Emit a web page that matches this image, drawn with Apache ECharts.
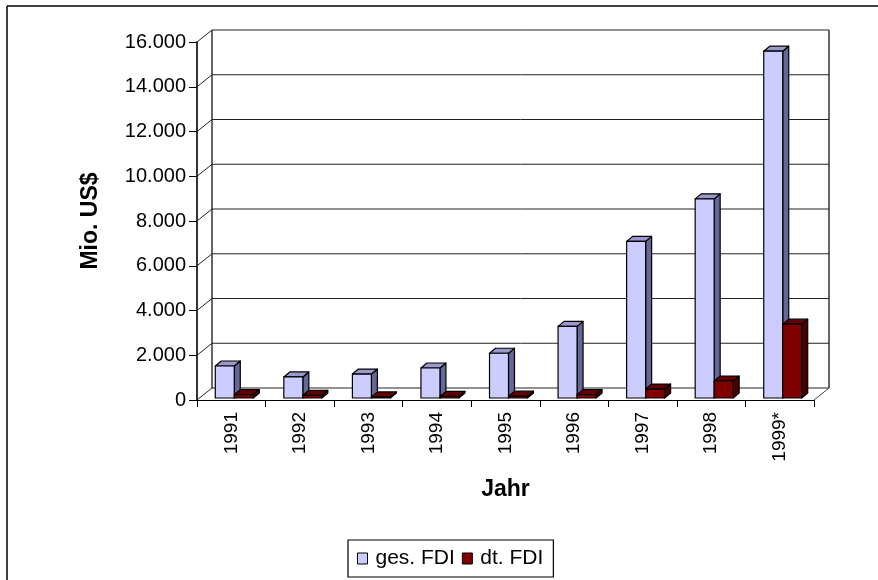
<!DOCTYPE html>
<html>
<head>
<meta charset="utf-8">
<script src="https://cdn.jsdelivr.net/npm/echarts@6/dist/echarts.min.js"></script>
<style>
  html, body { margin: 0; padding: 0; background: #fff; }
  #chart { width: 878px; height: 580px; }
</style>
</head>
<body>
<div id="chart"></div>
<script>
const years = ['1991', '1992', '1993', '1994', '1995', '1996', '1997', '1998', '1999*'];
const gesFdi = [1430, 940, 1070, 1340, 2000, 3200, 7000, 8900, 15500];
const dtFdi = [150, 120, 50, 70, 80, 150, 400, 760, 3300];
const yTicks = [0, 2000, 4000, 6000, 8000, 10000, 12000, 14000, 16000];

// Tiefe der 3D-Wand / der Säulen
const WALL_DX = 15, WALL_DY = -12;
const BAR_OFF_X = 3, BAR_OFF_Y = -2;
const BAR_DX = 6, BAR_DY = -5;
const LINE = '#000';

const fmt = v => String(v).replace(/\B(?=(\d{3})+(?!\d))/g, '.');

const chart = echarts.init(document.getElementById('chart'));

function renderWall(params, api) {
  const cs = params.coordSys;
  const v = api.value(1);
  const y = api.coord([0, v])[1];
  const x0 = cs.x, x1 = cs.x + cs.width;
  const children = [
    { type: 'line', shape: { x1: x0 + WALL_DX, y1: y + WALL_DY, x2: x1 + WALL_DX, y2: y + WALL_DY },
      style: { stroke: '#222', lineWidth: 1 } },
    { type: 'line', shape: { x1: x0, y1: y, x2: x0 + WALL_DX, y2: y + WALL_DY },
      style: { stroke: '#222', lineWidth: 1 } }
  ];
  if (params.dataIndex === 0) {
    const yb = cs.y + cs.height, yt = cs.y;
    children.push(
      { type: 'line', shape: { x1: x0 + WALL_DX, y1: yt + WALL_DY, x2: x0 + WALL_DX, y2: yb + WALL_DY },
        style: { stroke: LINE, lineWidth: 1.2 } },
      { type: 'line', shape: { x1: x1 + WALL_DX, y1: yt + WALL_DY, x2: x1 + WALL_DX, y2: yb + WALL_DY },
        style: { stroke: LINE, lineWidth: 1.2 } },
      { type: 'line', shape: { x1: x1, y1: yb, x2: x1 + WALL_DX, y2: yb + WALL_DY },
        style: { stroke: '#444', lineWidth: 1 } }
    );
  }
  return { type: 'group', children };
}

function makeBarRenderer(slot, front, side, top) {
  return function (params, api) {
    const i = api.value(0);
    const base = api.coord([i, 0]);
    const head = api.coord([i, api.value(1)]);
    const band = api.size([1, 0])[0];
    const w = band * 0.277;
    const xl = base[0] - w + slot * w + BAR_OFF_X;
    const xr = xl + w;
    const yb = base[1] + BAR_OFF_Y;
    const yt = head[1] + BAR_OFF_Y;
    const st = (c) => ({ fill: c, stroke: LINE, lineWidth: 1.2, lineJoin: 'round' });
    return {
      type: 'group',
      children: [
        { type: 'polygon', shape: { points: [[xr, yb], [xr + BAR_DX, yb + BAR_DY], [xr + BAR_DX, yt + BAR_DY], [xr, yt]] }, style: st(side) },
        { type: 'polygon', shape: { points: [[xl, yt], [xr, yt], [xr + BAR_DX, yt + BAR_DY], [xl + BAR_DX, yt + BAR_DY]] }, style: st(top) },
        { type: 'rect', shape: { x: xl, y: yt, width: w, height: yb - yt }, style: st(front) }
      ]
    };
  };
}

chart.setOption({
  animation: false,
  textStyle: { fontFamily: 'Liberation Sans, Arial, sans-serif' },
  graphic: [
    { type: 'line', shape: { x1: 7, y1: 6, x2: 878, y2: 6 }, style: { stroke: '#000', lineWidth: 1.5 } },
    { type: 'line', shape: { x1: 7, y1: 6, x2: 7, y2: 580 }, style: { stroke: '#000', lineWidth: 1.5 } }
  ],
  legend: {
    data: ['ges. FDI', 'dt. FDI'],
    left: 348,
    top: 540,
    itemWidth: 10,
    itemHeight: 11,
    itemGap: 7,
    icon: 'rect',
    padding: [8, 10, 8, 9],
    borderColor: '#000',
    borderWidth: 1.2,
    itemStyle: { borderColor: '#000', borderWidth: 1 },
    textStyle: { color: '#000', fontSize: 21, padding: [0, 0, 0, 3] }
  },
  grid: { left: 197, right: 64, top: 42, bottom: 180, containLabel: false },
  xAxis: {
    type: 'category',
    data: years,
    name: 'Jahr',
    nameLocation: 'middle',
    nameGap: 78,
    nameTextStyle: { color: '#000', fontSize: 23, fontWeight: 'bold' },
    axisLine: { lineStyle: { color: '#000', width: 1.2 } },
    axisTick: { show: true, length: 7, lineStyle: { color: '#000' } },
    axisLabel: { rotate: 90, color: '#000', fontSize: 19, margin: 12 },
    splitLine: { show: false }
  },
  yAxis: {
    type: 'value',
    min: 0,
    max: 16000,
    interval: 2000,
    name: 'Mio. US$',
    nameLocation: 'middle',
    nameRotate: 90,
    nameGap: 95,
    nameTextStyle: { color: '#000', fontSize: 23, fontWeight: 'bold' },
    axisLine: { show: true, lineStyle: { color: '#000', width: 1.6 } },
    axisTick: { show: true, length: 8, lineStyle: { color: '#000' } },
    axisLabel: { color: '#000', fontSize: 20, margin: 11, formatter: fmt },
    splitLine: { show: false }
  },
  series: [
    {
      type: 'custom',
      name: 'wall',
      renderItem: renderWall,
      clip: false,
      silent: true,
      z: 1,
      encode: { x: 0, y: 1 },
      data: yTicks.map(v => [0, v])
    },
    {
      type: 'custom',
      name: 'ges. FDI',
      renderItem: makeBarRenderer(0, '#ccccff', '#666699', '#9999cc'),
      itemStyle: { color: '#ccccff' },
      clip: false,
      z: 3,
      encode: { x: 0, y: 1 },
      data: gesFdi.map((v, i) => [i, v])
    },
    {
      type: 'custom',
      name: 'dt. FDI',
      renderItem: makeBarRenderer(1, '#800000', '#4a0000', '#660000'),
      itemStyle: { color: '#800000' },
      clip: false,
      z: 4,
      encode: { x: 0, y: 1 },
      data: dtFdi.map((v, i) => [i, v])
    }
  ]
});
</script>
</body>
</html>
